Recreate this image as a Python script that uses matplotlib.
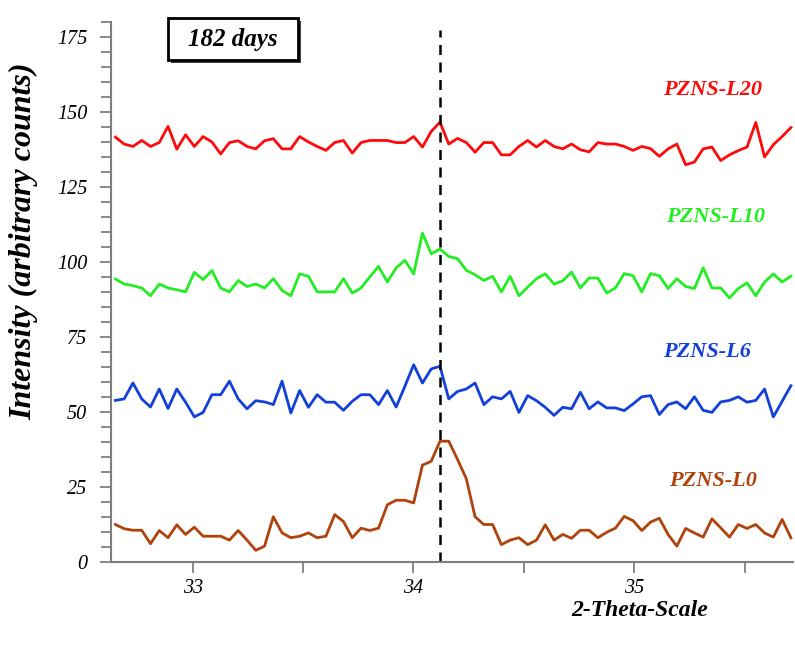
import numpy as np
import matplotlib.pyplot as plt
from matplotlib.patches import Rectangle
from matplotlib.ticker import MultipleLocator

# 2-theta grid (78 steps, ~0.04 deg)
two_theta = np.linspace(32.65, 35.71, 78)

pzns_l0 = [12.5, 11.1, 10.6, 10.6, 6.1, 10.5, 8.1, 12.4, 9.2, 11.6,
           8.6, 8.6, 8.6, 7.3, 10.5, 7.3, 3.9, 5.3, 15.1, 9.7,
           8.1, 8.6, 9.7, 8.1, 8.6, 15.8, 13.5, 8.1, 11.3, 10.5,
           11.3, 19.1, 20.6, 20.6, 19.7, 32.3, 33.6, 40.3, 40.3, 34.2,
           27.8, 15.1, 12.5, 12.5, 5.8, 7.3, 8.1, 5.8, 7.3, 12.4,
           7.3, 9.2, 7.9, 10.6, 10.6, 8.1, 9.9, 11.3, 15.2, 13.8,
           10.5, 13.3, 14.6, 9.2, 5.3, 11.2, 9.7, 8.3, 14.4, 11.4,
           8.3, 12.5, 11.2, 12.5, 9.7, 8.3, 14.2, 8.1]

pzns_l6 = [53.9, 54.4, 59.7, 54.4, 51.7, 57.7, 51.2, 57.7, 53.3, 48.4,
           49.9, 55.8, 55.8, 60.3, 54.4, 51.1, 53.8, 53.4, 52.5, 60.3,
           49.7, 57.2, 51.6, 55.8, 53.3, 53.3, 50.6, 53.6, 55.8, 55.8,
           52.5, 57.2, 51.7, 58.6, 65.8, 59.7, 64.4, 65.3, 54.4, 56.9,
           57.7, 59.7, 52.5, 55.1, 54.4, 56.9, 49.9, 55.5, 53.8, 51.6,
           48.9, 51.6, 51.1, 56.6, 51.1, 53.4, 51.4, 51.4, 50.5, 52.7,
           55.1, 55.5, 49.2, 52.5, 53.4, 51.1, 55.1, 50.6, 49.9, 53.4,
           53.9, 55.1, 53.3, 53.9, 57.7, 48.4, 53.6, 58.8]

pzns_l10 = [94.4, 92.7, 92.2, 91.4, 88.8, 92.7, 91.4, 90.8, 90.1, 96.6,
            94.2, 97.2, 91.4, 90.1, 93.9, 91.9, 92.7, 91.4, 94.5, 90.6,
            88.8, 96.1, 95.3, 90.1, 90.1, 90.1, 94.5, 89.7, 91.4, 95.1,
            98.6, 93.4, 98.1, 100.6, 96.1, 109.7, 102.8, 104.4, 101.9, 101.2,
            97.3, 95.8, 93.9, 95.3, 90.1, 95.3, 88.8, 91.7, 94.5, 96.1,
            92.7, 93.8, 96.7, 91.4, 94.7, 94.7, 89.7, 91.4, 96.2, 95.5,
            90.1, 96.2, 95.5, 91.2, 94.5, 91.9, 91.2, 98.1, 91.4, 91.4,
            88.1, 91.2, 93.1, 88.8, 93.4, 96.1, 93.4, 95.3]

pzns_l20 = [141.7, 139.4, 138.6, 140.6, 138.6, 139.9, 145.3, 137.7, 142.5, 138.6,
            141.9, 140.1, 136.1, 139.9, 140.5, 138.6, 137.8, 140.5, 141.2, 137.8,
            137.8, 141.9, 140.1, 138.6, 137.3, 139.9, 140.6, 136.4, 139.9, 140.6,
            140.6, 140.6, 139.9, 139.9, 141.9, 138.4, 143.6, 146.7, 139.4, 141.3,
            139.9, 136.7, 139.9, 139.9, 135.8, 135.8, 138.6, 140.6, 138.4, 140.6,
            138.6, 137.8, 139.4, 137.5, 136.8, 139.9, 139.4, 139.4, 138.6, 137.3,
            138.6, 137.9, 135.3, 137.8, 139.4, 132.5, 133.4, 137.8, 138.4, 133.9,
            135.8, 137.2, 138.4, 146.6, 135.1, 139.2, 141.9, 144.9]

# name, values, colour, label position (x, y)
series = [("PZNS-L20", pzns_l20, "#ff0a0a", 35.355, 157.5),
          ("PZNS-L10", pzns_l10, "#22ee22", 35.37, 115),
          ("PZNS-L6", pzns_l6, "#1240d8", 35.33, 70),
          ("PZNS-L0", pzns_l0, "#b0420c", 35.355, 27)]

peak_pos = 34.12
serif = "Liberation Serif"

fig = plt.figure(figsize=(7.95, 6.51), dpi=100)
ax = fig.add_axes([0.1396, 0.1367, 0.858, 0.829])

for name, vals, col, lx, ly in series:
    ax.plot(two_theta, vals, color=col, lw=2.0)
    ax.text(lx, ly, name, color=col, fontsize=16, fontweight="bold",
            fontstyle="italic", family=serif, ha="center", va="center")

ax.axvline(peak_pos, ymax=0.985, color="black", lw=1.8, ls=(0, (4, 3)))

ax.set_xlim(32.63, 35.72)
ax.set_ylim(0, 180)
ax.xaxis.set_major_locator(MultipleLocator(1))
ax.xaxis.set_minor_locator(MultipleLocator(0.5))
ax.yaxis.set_minor_locator(MultipleLocator(5))
ax.set_yticks([0, 25, 50, 75, 100, 125, 150, 175])

for s in ["top", "right"]:
    ax.spines[s].set_visible(False)
for s in ["left", "bottom"]:
    ax.spines[s].set_color("#7f7f7f")
    ax.spines[s].set_linewidth(1.5)

ax.tick_params(which="both", direction="out", color="#7f7f7f", width=1.3)
ax.tick_params(axis="y", which="major", length=8, pad=9)
ax.tick_params(axis="y", which="minor", length=7)
ax.tick_params(axis="x", which="both", length=8, pad=4)
for lab in ax.get_xticklabels() + ax.get_yticklabels():
    lab.set_family(serif)
    lab.set_fontstyle("italic")
    lab.set_fontsize(14.5)

ax.set_ylabel("Intensity (arbitrary counts)", family=serif, fontsize=23,
              fontweight="bold", fontstyle="italic")
ax.yaxis.set_label_coords(-0.106, 0.595)
fig.text(0.805, 0.062, "2-Theta-Scale", family=serif, fontsize=17,
         fontweight="bold", fontstyle="italic", ha="center", va="center")

# "182 days" box with a slight drop shadow
fig.patches.append(Rectangle((0.2145, 0.9032), 0.1635, 0.0645,
                             transform=fig.transFigure, fc="#404040",
                             ec="none", zorder=5))
fig.patches.append(Rectangle((0.2113, 0.9078), 0.1635, 0.0645,
                             transform=fig.transFigure, fc="white",
                             ec="black", lw=2, zorder=6))
fig.text(0.293, 0.939, "182 days", family=serif, fontsize=18,
         fontweight="bold", fontstyle="italic", ha="center", va="center",
         zorder=7)

fig.savefig("out.png", dpi=100)
